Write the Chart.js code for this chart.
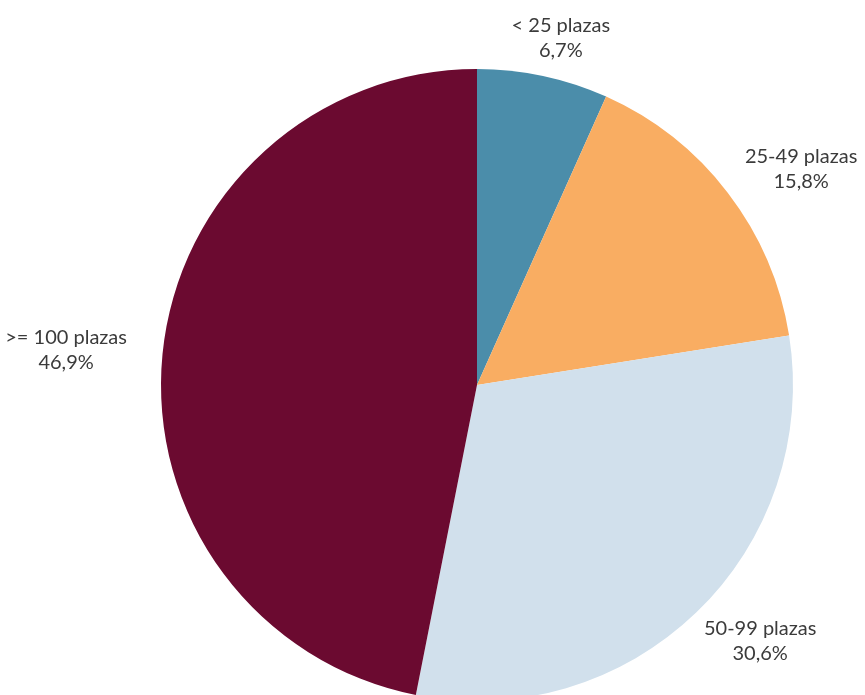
<!DOCTYPE html>
<html>
<head>
<meta charset="utf-8">
<script src="https://cdn.jsdelivr.net/npm/chart.js@4/dist/chart.umd.min.js"></script>
<style>
  html, body { margin: 0; padding: 0; background: #fff; overflow: hidden; }
  #wrap { width: 865px; height: 695px; overflow: hidden; }
</style>
</head>
<body>
<div id="wrap"><canvas id="c" width="865" height="770"></canvas></div>
<script>
  // Data
  const categories = ['< 25 plazas', '25-49 plazas', '50-99 plazas', '>= 100 plazas'];
  const shares = [6.7, 15.8, 30.6, 46.9];
  const sliceColors = ['#4b8daa', '#f9ad62', '#d1e0ec', '#6b0a30'];

  // Outside-end labels: two lines, centred, pushed out along the slice's mid angle
  const outsideLabels = {
    id: 'outsideLabels',
    afterDatasetsDraw(chart) {
      const ctx = chart.ctx;
      const meta = chart.getDatasetMeta(0);
      const lineH = 25;
      const gapX = 36, gapY = 14;
      ctx.save();
      ctx.font = '20px Lato, "Open Sans", sans-serif';
      ctx.fillStyle = '#3b3b3b';
      ctx.textAlign = 'center';
      ctx.textBaseline = 'middle';
      meta.data.forEach((arc, i) => {
        const p = arc.getProps(['x', 'y', 'startAngle', 'endAngle', 'outerRadius'], true);
        const mid = (p.startAngle + p.endAngle) / 2;
        const dx = Math.cos(mid), dy = Math.sin(mid);
        const lines = [categories[i], shares[i].toFixed(1).replace('.', ',') + '%'];
        const w = Math.max(...lines.map(t => ctx.measureText(t).width));
        const h = lineH * lines.length;
        const cx = p.x + dx * (p.outerRadius + gapX) + dx * w / 2;
        const cy = p.y + dy * (p.outerRadius + gapY) + dy * h / 2;
        lines.forEach((t, k) => {
          ctx.fillText(t, cx, cy + (k - (lines.length - 1) / 2) * lineH);
        });
      });
      ctx.restore();
    }
  };

  new Chart(document.getElementById('c'), {
    type: 'pie',
    data: {
      labels: categories,
      datasets: [{
        data: shares,
        backgroundColor: sliceColors,
        borderWidth: 0
      }]
    },
    options: {
      responsive: false,
      animation: false,
      devicePixelRatio: 1,
      layout: { padding: { top: 69, bottom: 69, left: 161, right: 72 } },
      plugins: {
        legend: { display: false },
        tooltip: { enabled: false }
      }
    },
    plugins: [outsideLabels]
  });
</script>
</body>
</html>
